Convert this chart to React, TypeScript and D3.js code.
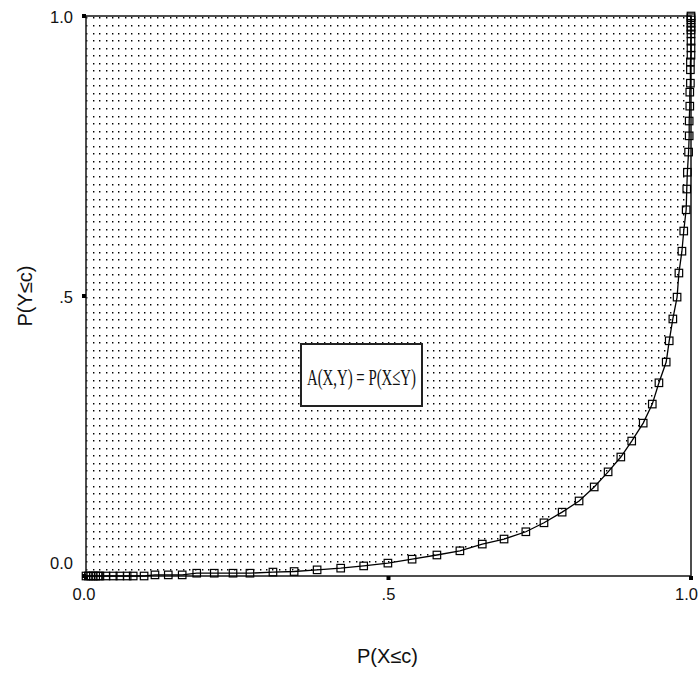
import React, { useEffect, useRef } from "react";
import * as d3 from "d3";

// P(X<=c) values (x) and P(Y<=c) values (y) along the curve
const pX = [0, 0.004, 0.008, 0.012, 0.016, 0.02, 0.023, 0.033, 0.045, 0.056, 0.068, 0.078, 0.096, 0.114, 0.136, 0.159, 0.183, 0.212, 0.243, 0.271, 0.309, 0.344, 0.382, 0.421, 0.459, 0.499, 0.539, 0.58, 0.618, 0.655, 0.691, 0.727, 0.757, 0.787, 0.815, 0.84, 0.863, 0.884, 0.902, 0.921, 0.936, 0.947, 0.959, 0.964, 0.97, 0.977, 0.98, 0.985, 0.988, 0.992, 0.993, 0.994, 0.996, 0.997, 0.997, 0.998, 0.998, 0.999, 0.999, 0.999, 1, 1, 1, 1, 1, 1, 1, 1, 1, 1];
const pY = [0, 0, 0, 0, 0, 0, 0, 0, 0, 0, 0, 0, 0, 0.002, 0.002, 0.002, 0.005, 0.005, 0.005, 0.005, 0.007, 0.008, 0.011, 0.014, 0.018, 0.023, 0.03, 0.0375, 0.045, 0.057, 0.066, 0.079, 0.095, 0.114, 0.134, 0.159, 0.186, 0.2125, 0.241, 0.273, 0.307, 0.345, 0.382, 0.42, 0.459, 0.498, 0.541, 0.58, 0.616, 0.654, 0.691, 0.721, 0.757, 0.786, 0.8125, 0.839, 0.864, 0.88, 0.904, 0.918, 0.93, 0.943, 0.955, 0.968, 0.975, 0.98, 0.987, 0.993, 0.997, 1];

const ticks = [0, 0.5, 1];
const tickLabels = ["0.0", ".5", "1.0"];
const xTitle = "P(X≤c)";
const yTitle = "P(Y≤c)";
const annotation = "A(X,Y) = P(X≤Y)";

const W = 699;
const H = 677;
const L = 86, R = 691, T = 16, B = 576;

export default function App() {
  const ref = useRef<SVGSVGElement>(null);

  useEffect(() => {
    const svg = d3.select(ref.current);
    svg.selectAll("*").remove();
    const x = d3.scaleLinear().domain([0, 1]).range([L, R]);
    const y = d3.scaleLinear().domain([0, 1]).range([B, T]);
    const pts: [number, number][] = pX.map((v, i) => [v, pY[i]]);

    // clip region above the curve
    const clipPts = pts.map(([a, b]) => [x(a), y(b)] as [number, number]);
    clipPts.push([x(0), y(1)]);
    svg
      .append("defs")
      .append("clipPath")
      .attr("id", "fillclip")
      .append("path")
      .attr("d", "M" + clipPts.map((p) => p.join(",")).join("L") + "Z");

    // dotted texture
    let d = "";
    for (let yy = 17.45; yy <= B; yy += 7.55) {
      for (let xx = 86.25; xx <= R; xx += 6.42) {
        d += `M${Math.round(xx)},${Math.round(yy)}h1.4v1.4h-1.4z`;
      }
    }
    svg.append("path").attr("d", d).attr("fill", "#000").attr("clip-path", "url(#fillclip)");

    // frame
    const frame = svg.append("g").attr("stroke", "#222").attr("stroke-width", 1.6).attr("fill", "none");
    frame.append("rect").attr("x", L).attr("y", T).attr("width", R - L).attr("height", B - T);

    // curve
    const line = d3.line<[number, number]>().x((p) => x(p[0])).y((p) => y(p[1]));
    svg.append("path").attr("d", line(pts)).attr("fill", "none").attr("stroke", "#000").attr("stroke-width", 1.3);
    svg
      .append("g")
      .selectAll("rect")
      .data(pts)
      .join("rect")
      .attr("x", (p) => x(p[0]) - 3.75)
      .attr("y", (p) => y(p[1]) - 3.75)
      .attr("width", 7.5)
      .attr("height", 7.5)
      .attr("fill", "none")
      .attr("stroke", "#000")
      .attr("stroke-width", 1.2);

    // ticks
    const font = "'Liberation Sans', Arial, sans-serif";
    ticks.forEach((t, i) => {
      svg.append("rect").attr("x", L - 4).attr("y", y(t) - 2).attr("width", 4).attr("height", 4).attr("fill", "#000");
      svg.append("rect").attr("x", x(t) - 2).attr("y", B).attr("width", 4).attr("height", 4).attr("fill", "#000");
      svg
        .append("text")
        .attr("x", 73)
        .attr("y", y(t) + 6.5 - (t === 0 ? 14 : 0))
        .attr("text-anchor", "end")
        .attr("font-family", font)
        .attr("font-size", 16.5)
        .attr("fill", "#111")
        .text(tickLabels[i]);
      svg
        .append("text")
        .attr("x", t === 1 ? 698 : x(t) - (t === 0 ? 2 : 0))
        .attr("y", 600)
        .attr("text-anchor", t === 1 ? "end" : "middle")
        .attr("font-family", font)
        .attr("font-size", 16.5)
        .attr("fill", "#111")
        .text(tickLabels[i]);
    });

    // titles
    svg
      .append("text")
      .attr("x", (L + R) / 2 - 1)
      .attr("y", 663)
      .attr("text-anchor", "middle")
      .attr("font-family", font)
      .attr("font-size", 20)
      .attr("fill", "#111")
      .text(xTitle);
    svg
      .append("text")
      .attr("transform", `translate(32,${(T + B) / 2}) rotate(-90)`)
      .attr("text-anchor", "middle")
      .attr("font-family", font)
      .attr("font-size", 20)
      .attr("fill", "#111")
      .text(yTitle);

    // annotation box
    svg
      .append("rect")
      .attr("x", 301)
      .attr("y", 344)
      .attr("width", 121)
      .attr("height", 62)
      .attr("fill", "#fff")
      .attr("stroke", "#222")
      .attr("stroke-width", 2);
    svg
      .append("text")
      .attr("x", 307)
      .attr("y", 385)
      .attr("font-family", "'Liberation Serif', 'Times New Roman', serif")
      .attr("font-size", 24)
      .attr("textLength", 109)
      .attr("lengthAdjust", "spacingAndGlyphs")
      .attr("fill", "#111")
      .text(annotation);
  }, []);

  return (
    <svg
      ref={ref}
      width={W}
      height={H}
      style={{ position: "absolute", left: 0, top: 0, background: "#fff" }}
    />
  );
}
